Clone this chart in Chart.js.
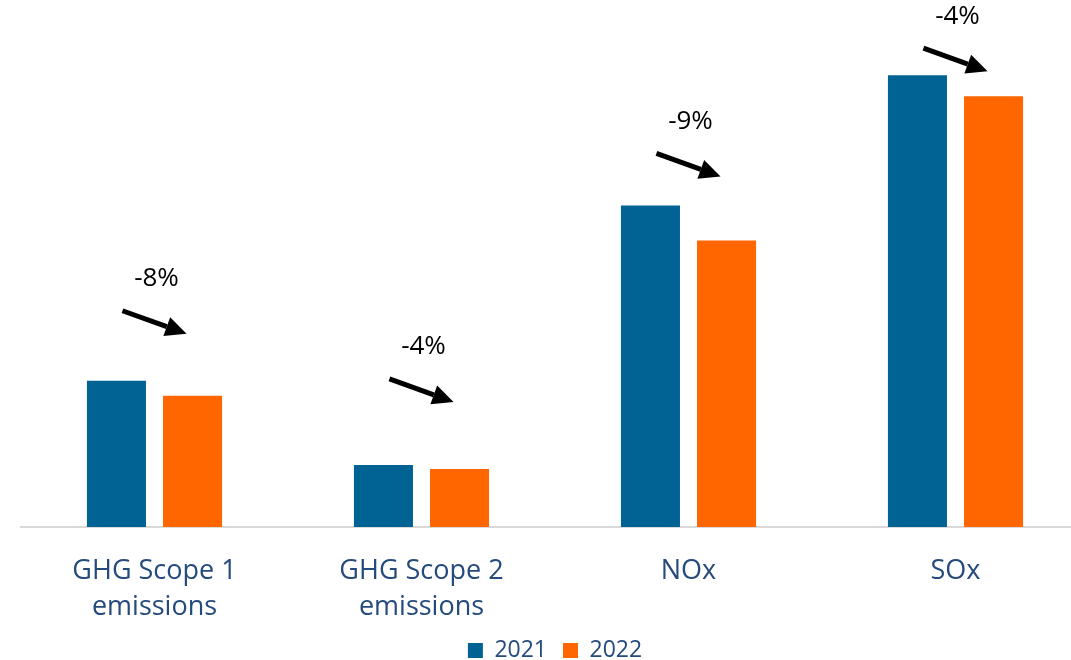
<!DOCTYPE html>
<html>
<head>
<meta charset="utf-8">
<script src="https://cdn.jsdelivr.net/npm/chart.js@4"></script>
<style>
  html, body { margin: 0; padding: 0; background: #fff; overflow: hidden; }
  .wrap { position: relative; width: 1110px; height: 660px; }
</style>
</head>
<body>
<div class="wrap"><canvas id="c"></canvas></div>
<script>
// data (relative units)
const categories = [['GHG Scope 1', 'emissions'], ['GHG Scope 2', 'emissions'], 'NOx', 'SOx'];
const values2021 = [146, 62, 321, 451];
const values2022 = [131, 58, 286, 430];
const changeLabels = ['-8%', '-4%', '-9%', '-4%'];

const blue = '#006394';
const orange = '#ff6600';
const labelColor = '#254a7c';
const font = '"Open Sans", Lato, sans-serif';

// arrows + percentage labels above each pair
const arrowLift = [70, 86, 52, 27];
const arrowsPlugin = {
  id: 'arrows',
  afterDatasetsDraw(chart) {
    const ctx = chart.ctx;
    const m0 = chart.getDatasetMeta(0), m1 = chart.getDatasetMeta(1);
    categories.forEach((c, i) => {
      const b0 = m0.data[i], b1 = m1.data[i];
      const x1 = b0.x + 6, x2 = b1.x - 6;
      const y1 = b0.y - arrowLift[i];
      const y2 = y1 + 23;
      const ang = Math.atan2(y2 - y1, x2 - x1);
      const head = 21, hw = 10;
      const bx = x2 - head * Math.cos(ang), by = y2 - head * Math.sin(ang);
      ctx.save();
      ctx.strokeStyle = '#000';
      ctx.fillStyle = '#000';
      ctx.lineWidth = 5;
      ctx.beginPath();
      ctx.moveTo(x1, y1);
      ctx.lineTo(bx, by);
      ctx.stroke();
      ctx.beginPath();
      ctx.moveTo(x2, y2);
      ctx.lineTo(bx + hw * Math.sin(ang), by - hw * Math.cos(ang));
      ctx.lineTo(bx - hw * Math.sin(ang), by + hw * Math.cos(ang));
      ctx.closePath();
      ctx.fill();
      ctx.font = '26px ' + font;
      ctx.textAlign = 'center';
      ctx.textBaseline = 'middle';
      ctx.fillText(changeLabels[i], (x1 + x2) / 2 + 2, y1 - 32);
      ctx.restore();
    });
  }
};

new Chart(document.getElementById('c'), {
  type: 'bar',
  data: {
    labels: categories,
    datasets: [
      { label: '2021', data: values2021, backgroundColor: blue },
      { label: '2022', data: values2022, backgroundColor: orange }
    ]
  },
  options: {
    responsive: true,
    maintainAspectRatio: false,
    animation: false,
    categoryPercentage: 0.57,
    barPercentage: 0.776,
    layout: { padding: { left: 21, right: 21, top: 0, bottom: -12 } },
    plugins: {
      legend: {
        position: 'bottom',
        labels: {
          boxWidth: 15, boxHeight: 15, padding: 16,
          color: labelColor,
          font: { family: font, size: 23 }
        }
      },
      tooltip: { enabled: false }
    },
    scales: {
      x: {
        grid: { display: false, drawTicks: false },
        border: { color: '#d9d9d9', width: 2 },
        afterFit(scale) { scale.height -= 28; },
        ticks: {
          color: labelColor, padding: 26, maxRotation: 0,
          font: { family: font, size: 27, lineHeight: 1.333 }
        }
      },
      y: {
        display: false,
        min: 0, max: 526
      }
    }
  },
  plugins: [arrowsPlugin]
});
</script>
</body>
</html>
